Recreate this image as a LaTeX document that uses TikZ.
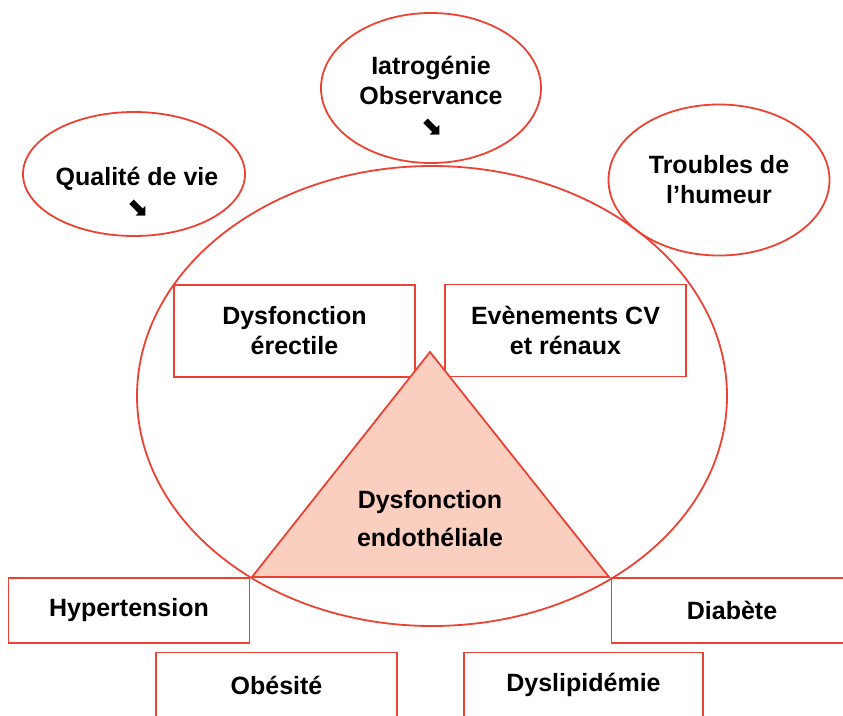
\documentclass[tikz,border=0pt]{standalone}
\usepackage{fontspec}
\setmainfont{Liberation Sans}
\newfontfamily\fleche{DejaVu Sans}
\usetikzlibrary{shapes}
\definecolor{rouge}{RGB}{236,66,52}
\definecolor{saumon}{RGB}{251,207,192}
\tikzset{
  trait/.style={draw=rouge,line width=1.8pt},
  boite/.style={trait,minimum width=241pt,minimum height=92pt,inner sep=0pt},
  bulle/.style={trait,ellipse,inner sep=0pt},
  texte/.style={align=center,font=\bfseries\fontsize{25}{30}\selectfont}
}
\newcommand{\bas}{{\fleche\fontsize{26}{30}\selectfont ⬊}}
\begin{document}
\begin{tikzpicture}[x=1pt,y=-1pt,every node/.style={texte}]
    \useasboundingbox (0,0) rectangle (843,715);
    \clip (0,0) rectangle (843,715);

    \node[bulle,minimum width=590pt,minimum height=460pt] (C) at (432,396) {};
    \node[bulle,minimum width=222pt,minimum height=124pt] (Q) at (134,174) {};
    \node (q) at (137,192) {Qualité de vie\\\bas};
    \node[bulle,minimum width=220pt,minimum height=150pt] (I) at (431,88) {};
    \node (i) at (431,96) {Iatrogénie\\Observance\\\bas};
    \node[bulle,minimum width=221pt,minimum height=151pt] (H) at (719,180) {Troubles de\\l’humeur};

    \node[boite] (E) at (294.5,331) {Dysfonction\\érectile};
    \node[boite] (V) at (565.5,330.5) {Evènements CV\\et rénaux};

    \coordinate (S) at (430,352);
    \coordinate (G) at (252,577);
    \coordinate (D) at (609,577);
    \draw[trait,fill=saumon] (S) -- (G) -- (D) -- cycle;
    \node[font=\bfseries\fontsize{25}{38}\selectfont] (T) at (430,519) {Dysfonction\\endothéliale};

    \node[boite,minimum height=65pt] (HT) at (129,610.5) {Hypertension};
    \node[boite,minimum height=65pt] (DB) at (732,610.5) {Diabète};
    \node[boite,minimum height=65pt,minimum width=241pt] (OB) at (276.5,685) {Obésité};
    \node[boite,minimum height=65pt,minimum width=239pt] (DL) at (583.5,685) {Dyslipidémie};
\end{tikzpicture}
\end{document}
